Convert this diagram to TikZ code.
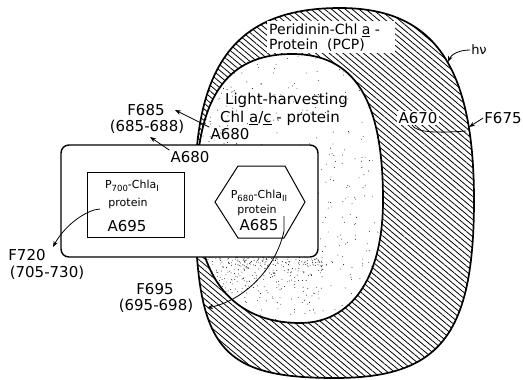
\documentclass[tikz,border=0pt]{standalone}
\usepackage{fontspec}
\setmainfont{DejaVu Sans}
\usetikzlibrary{arrows.meta,patterns.meta}
\def\outerpath{(195,190) .. controls (195,62) and (238,8) .. (340,8) .. controls (434,8) and (474,66) .. (474,200) .. controls (474,335) and (440,378) .. (335,378) .. controls (215,378) and (195,345) .. (195,190) -- cycle}
\def\innerpath{(196,195) .. controls (196,100) and (225,54) .. (292,54) .. controls (355,54) and (383,100) .. (383,200) .. controls (383,280) and (350,323) .. (300,323) .. controls (235,323) and (196,280) .. (196,195) -- cycle}
\newcommand\subnum[1]{\raisebox{-2.5pt}{\fontsize{8.5}{9}\selectfont #1}}
\begin{document}
\begin{tikzpicture}[x=1pt,y=-1pt,
  lbl/.style={font=\fontsize{15}{17}\selectfont, inner sep=1pt},
  pcp/.style={font=\fontsize{14}{16}\selectfont, inner sep=1pt},
  sml/.style={font=\fontsize{11}{12}\selectfont, inner sep=0.5pt},
  arr/.style={line width=0.8pt, -{Stealth[length=6pt,width=4.5pt]}},
  conn/.style={line width=0.8pt},
  rim/.style={line width=1.7pt},
]
\useasboundingbox (0,0) rectangle (523,380);
% PCP ring
\path[pattern={Lines[angle=-40,distance=4.4pt,line width=0.8pt]}] \outerpath;
\fill[white] \innerpath;
% stipple
\begin{scope}
\clip \innerpath;
\pgfmathsetseed{7}
\foreach \i in {1,...,260}{
  \pgfmathsetmacro\px{196+187*rnd}
  \pgfmathsetmacro\py{54+269*rnd}
  \fill (\px,\py) circle (0.45pt);
}
\foreach \i in {1,...,330}{
  \pgfmathsetmacro\px{198+125*rnd}
  \pgfmathsetmacro\py{257+62*rnd*rnd}
  \fill (\px,\py) circle (0.45pt);
}
\foreach \i in {1,...,50}{
  \pgfmathsetmacro\px{318+55*rnd}
  \pgfmathsetmacro\py{140+140*rnd}
  \fill (\px,\py) circle (0.45pt);
}
\foreach \i in {1,...,50}{
  \pgfmathsetmacro\px{198+40*rnd}
  \pgfmathsetmacro\py{70+75*rnd}
  \fill (\px,\py) circle (0.45pt);
}
\end{scope}
\draw[rim] \outerpath;
\draw[rim] \innerpath;
% PCP label
\fill[white] (267,21) rectangle (395,53);
\node[pcp, anchor=west] (pcp1) at (268,30) {Peridinin-Chl \underline{a} -};
\node[pcp, anchor=west] (pcp2) at (268,45) {Protein \ (PCP)};
% light-harvesting label
\node[lbl, anchor=west] (lh1) at (224,100) {Light-harvesting};
\node[lbl, anchor=west] (lh2) at (219,118) {Chl \underline{a}/\underline{c} - protein};
% right side labels
\node[lbl, font=\fontsize{13}{15}\selectfont] (hv) at (479,50) {hν};
\coordinate (thv) at (448,62);
\draw[arr] (hv.west) .. controls (458,50) and (451,55) .. (thv);
\node[lbl, fill=white, inner sep=1.5pt] (A670) at (418,118) {A670};
\node[lbl] (F675) at (503,118) {F675};
\coordinate (t675) at (469,127);
\draw[arr] (F675.west) -- (t675);
\coordinate (s670) at (412,125);
\coordinate (e670) at (466,131);
\draw[conn] (s670) .. controls (416,133) and (440,133) .. (e670);
% big photosystem box
\node[draw, line width=1.4pt, fill=white, rounded corners=8pt, minimum width=257pt, minimum height=112pt] (psbox) at (189.5,201) {};
% P700 box
\node[draw, line width=1pt, minimum width=97pt, minimum height=65pt] (psI) at (135.5,204.5) {};
\node[sml] (p700) at (132,186) {P\subnum{700}-Chla\subnum{I}};
\node[sml] (prot1) at (128,203) {protein};
\node[lbl] (a695) at (127,226) {A695};
% P680 hexagon
\coordinate (h1) at (215,202);
\coordinate (h2) at (238,166);
\coordinate (h3) at (285,166);
\coordinate (h4) at (305,202);
\coordinate (h5) at (284,238);
\coordinate (h6) at (238,238);
\draw[line width=1pt] (h1) -- (h2) -- (h3) -- (h4) -- (h5) -- (h6) -- cycle;
\node[sml] (p680) at (259,196) {P\subnum{680}-Chla\subnum{II}};
\node[sml] (prot2) at (257,210) {protein};
\node[lbl] (a685) at (259,225) {A685};
% left labels
\node[lbl] (F685) at (146,110) {F685};
\node[lbl] (r685) at (147,127) {(685-688)};
\node[lbl] (A680u) at (230,134) {A680};
\node[lbl] (A680l) at (190,157) {A680};
\node[lbl] (F720) at (27,255) {F720};
\node[lbl] (r720) at (47,273) {(705-730)};
\node[lbl] (F695) at (155,289) {F695};
\node[lbl] (r695) at (156,306) {(695-698)};
% connectors
\coordinate (t685) at (175,110);
\draw[arr] (A680u.north west) -- (t685);
\coordinate (t685b) at (150,137);
\draw[arr] (A680l.north west) -- (t685b);
\coordinate (s720) at (100,209);
\coordinate (t720) at (53,247);
\draw[arr] (s720) -- (94,210) .. controls (76,216) and (61,232) .. (t720);
\coordinate (s695) at (284,216);
\coordinate (t695) at (207,308);
\draw[arr] (s695) -- (284,231) .. controls (276,268) and (245,300) .. (t695);
\end{tikzpicture}
\end{document}
